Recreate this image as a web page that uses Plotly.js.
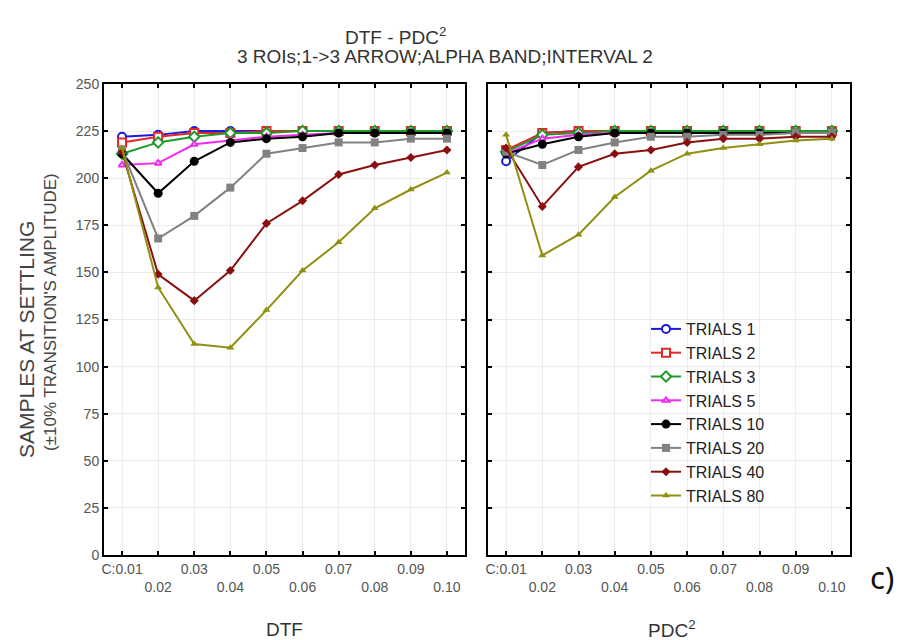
<!DOCTYPE html>
<html><head><meta charset="utf-8">
<script src="https://cdn.plot.ly/plotly-3.0.1.min.js"></script>
<style>html,body{margin:0;padding:0;background:#fff}#chart{width:904px;height:640px}</style>
</head><body><div id="chart"></div>
<script>
// Category tick labels (coherence values)
const xLabels = ["C:0.01","0.02","0.03","0.04","0.05","0.06","0.07","0.08","0.09","0.10"];
const seriesNames = ["TRIALS 1","TRIALS 2","TRIALS 3","TRIALS 5","TRIALS 10","TRIALS 20","TRIALS 40","TRIALS 80"];

// DTF panel values (samples at settling)
const dtfTrials1  = [222, 223, 225, 225, 225, 225, 225, 225, 225, 225];
const dtfTrials2  = [219, 222, 224, 224, 225, 225, 225, 225, 225, 225];
const dtfTrials3  = [213, 219, 222, 224, 224, 225, 225, 225, 225, 225];
const dtfTrials5  = [207, 208, 218, 220, 222, 223, 224, 224, 224, 224];
const dtfTrials10 = [213, 192, 209, 219, 221, 222, 224, 224, 224, 224];
const dtfTrials20 = [215, 168, 180, 195, 213, 216, 219, 219, 221, 221];
const dtfTrials40 = [214, 149, 135, 151, 176, 188, 202, 207, 211, 215];
const dtfTrials80 = [216, 142, 112, 110, 130, 151, 166, 184, 194, 203];

// PDC^2 panel values
const pdcTrials1  = [209, 224, 225, 225, 225, 225, 225, 225, 225, 225];
const pdcTrials2  = [215, 224, 225, 225, 225, 225, 225, 225, 225, 225];
const pdcTrials3  = [214, 223, 224, 225, 225, 225, 225, 225, 225, 225];
const pdcTrials5  = [213, 221, 223, 224, 224, 224, 224, 224, 224, 224];
const pdcTrials10 = [213, 218, 222, 224, 224, 224, 224, 224, 224, 224];
const pdcTrials20 = [214, 207, 215, 219, 222, 222, 223, 223, 224, 224];
const pdcTrials40 = [216, 185, 206, 213, 215, 219, 221, 221, 222, 222];
const pdcTrials80 = [223, 159, 170, 190, 204, 213, 216, 218, 220, 221];

const dtfSeries = [dtfTrials1,dtfTrials2,dtfTrials3,dtfTrials5,dtfTrials10,dtfTrials20,dtfTrials40,dtfTrials80];
const pdcSeries = [pdcTrials1,pdcTrials2,pdcTrials3,pdcTrials5,pdcTrials10,pdcTrials20,pdcTrials40,pdcTrials80];

const colors  = ["#1a1ae0","#e02828","#1f9a2a","#f02af0","#000000","#828282","#8a1010","#8f8f12"];
const symbols = ["circle","square","diamond","triangle-up","circle","square","diamond","triangle-up"];
const open    = [true,true,true,true,false,false,false,false];
const sizes   = [8,8,8,6,9,8,7,7];

const idx = xLabels.map((_, i) => i);
const tickText = xLabels.map((t, i) => i % 2 === 0 ? t : "\u00a0<br>" + t);

const traces = [];
seriesNames.forEach((name, s) => {
  const marker = {
    symbol: symbols[s], size: sizes[s],
    color: open[s] ? "#ffffff" : colors[s],
    line: {color: colors[s], width: open[s] ? 2 : 0}
  };
  traces.push({x: idx, y: dtfSeries[s], xaxis: "x", yaxis: "y", name: name, legendgroup: name,
    type: "scatter", mode: "lines+markers", line: {color: colors[s], width: 2}, marker: marker, showlegend: true});
  traces.push({x: idx, y: pdcSeries[s], xaxis: "x2", yaxis: "y2", name: name, legendgroup: name,
    type: "scatter", mode: "lines+markers", line: {color: colors[s], width: 2}, marker: marker, showlegend: false});
});

const fontFam = "Liberation Sans, Arial, sans-serif";
const xCommon = {
  tickmode: "array", tickvals: idx, ticktext: tickText, range: [-0.5, 9.5], tickangle: 0,
  ticks: "inside", ticklen: 4, tickwidth: 2, tickcolor: "#000", mirror: "ticks",
  showline: true, linecolor: "#000", linewidth: 2,
  showgrid: true, gridcolor: "#ececec", gridwidth: 1, zeroline: false,
  tickfont: {family: fontFam, size: 14, color: "#555"}
};
const yCommon = {
  range: [0, 250], tickmode: "linear", tick0: 0, dtick: 25,
  ticks: "inside", ticklen: 4, tickwidth: 2, tickcolor: "#000", mirror: "ticks",
  showline: true, linecolor: "#000", linewidth: 2,
  showgrid: true, gridcolor: "#ececec", gridwidth: 1, zeroline: false,
  tickfont: {family: fontFam, size: 14, color: "#555"}
};

const px = v => v / 904, py = v => (640 - v) / 640;

function note(text, x, y, size, color, angle, fam) {
  return {text: text, x: px(x), y: py(y), xref: "paper", yref: "paper", showarrow: false,
    textangle: angle || 0, xanchor: "center", yanchor: "middle",
    font: {family: fam || fontFam, size: size, color: color}};
}

const layout = {
  width: 904, height: 640,
  margin: {l: 0, r: 0, t: 0, b: 0},
  paper_bgcolor: "#ffffff", plot_bgcolor: "#ffffff",
  font: {family: fontFam, color: "#444"},
  showlegend: true,
  xaxis: Object.assign({}, xCommon, {domain: [px(104), px(465)], anchor: "y"}),
  yaxis: Object.assign({}, yCommon, {domain: [py(555), py(84)], anchor: "x"}),
  xaxis2: Object.assign({}, xCommon, {domain: [px(488), px(850)], anchor: "y2"}),
  yaxis2: Object.assign({}, yCommon, {domain: [py(555), py(84)], anchor: "x2", showticklabels: false}),
  legend: {x: px(646), y: py(312), xanchor: "left", yanchor: "top",
    bgcolor: "rgba(0,0,0,0)", borderwidth: 0, tracegroupgap: 0,
    font: {family: fontFam, size: 16, color: "#222"}},
  annotations: [
    note("DTF - PDC<sup>2</sup>", 395, 36, 19, "#333"),
    note("3 ROIs;1-&gt;3 ARROW;ALPHA BAND;INTERVAL 2", 445, 56, 19, "#333"),
    note("SAMPLES AT SETTLING", 26, 340, 21, "#444", -90),
    note("(±10% TRANSITION'S AMPLITUDE)", 50, 312, 17, "#444", -90),
    note("DTF", 284, 629, 19, "#333"),
    note("PDC<sup>2</sup>", 672, 629, 19, "#333"),
    note("c)", 882, 577, 31, "#111", 0, "Noto Sans, sans-serif")
  ]
};

Plotly.newPlot("chart", traces, layout, {displayModeBar: false, staticPlot: true});
</script>
</body></html>
